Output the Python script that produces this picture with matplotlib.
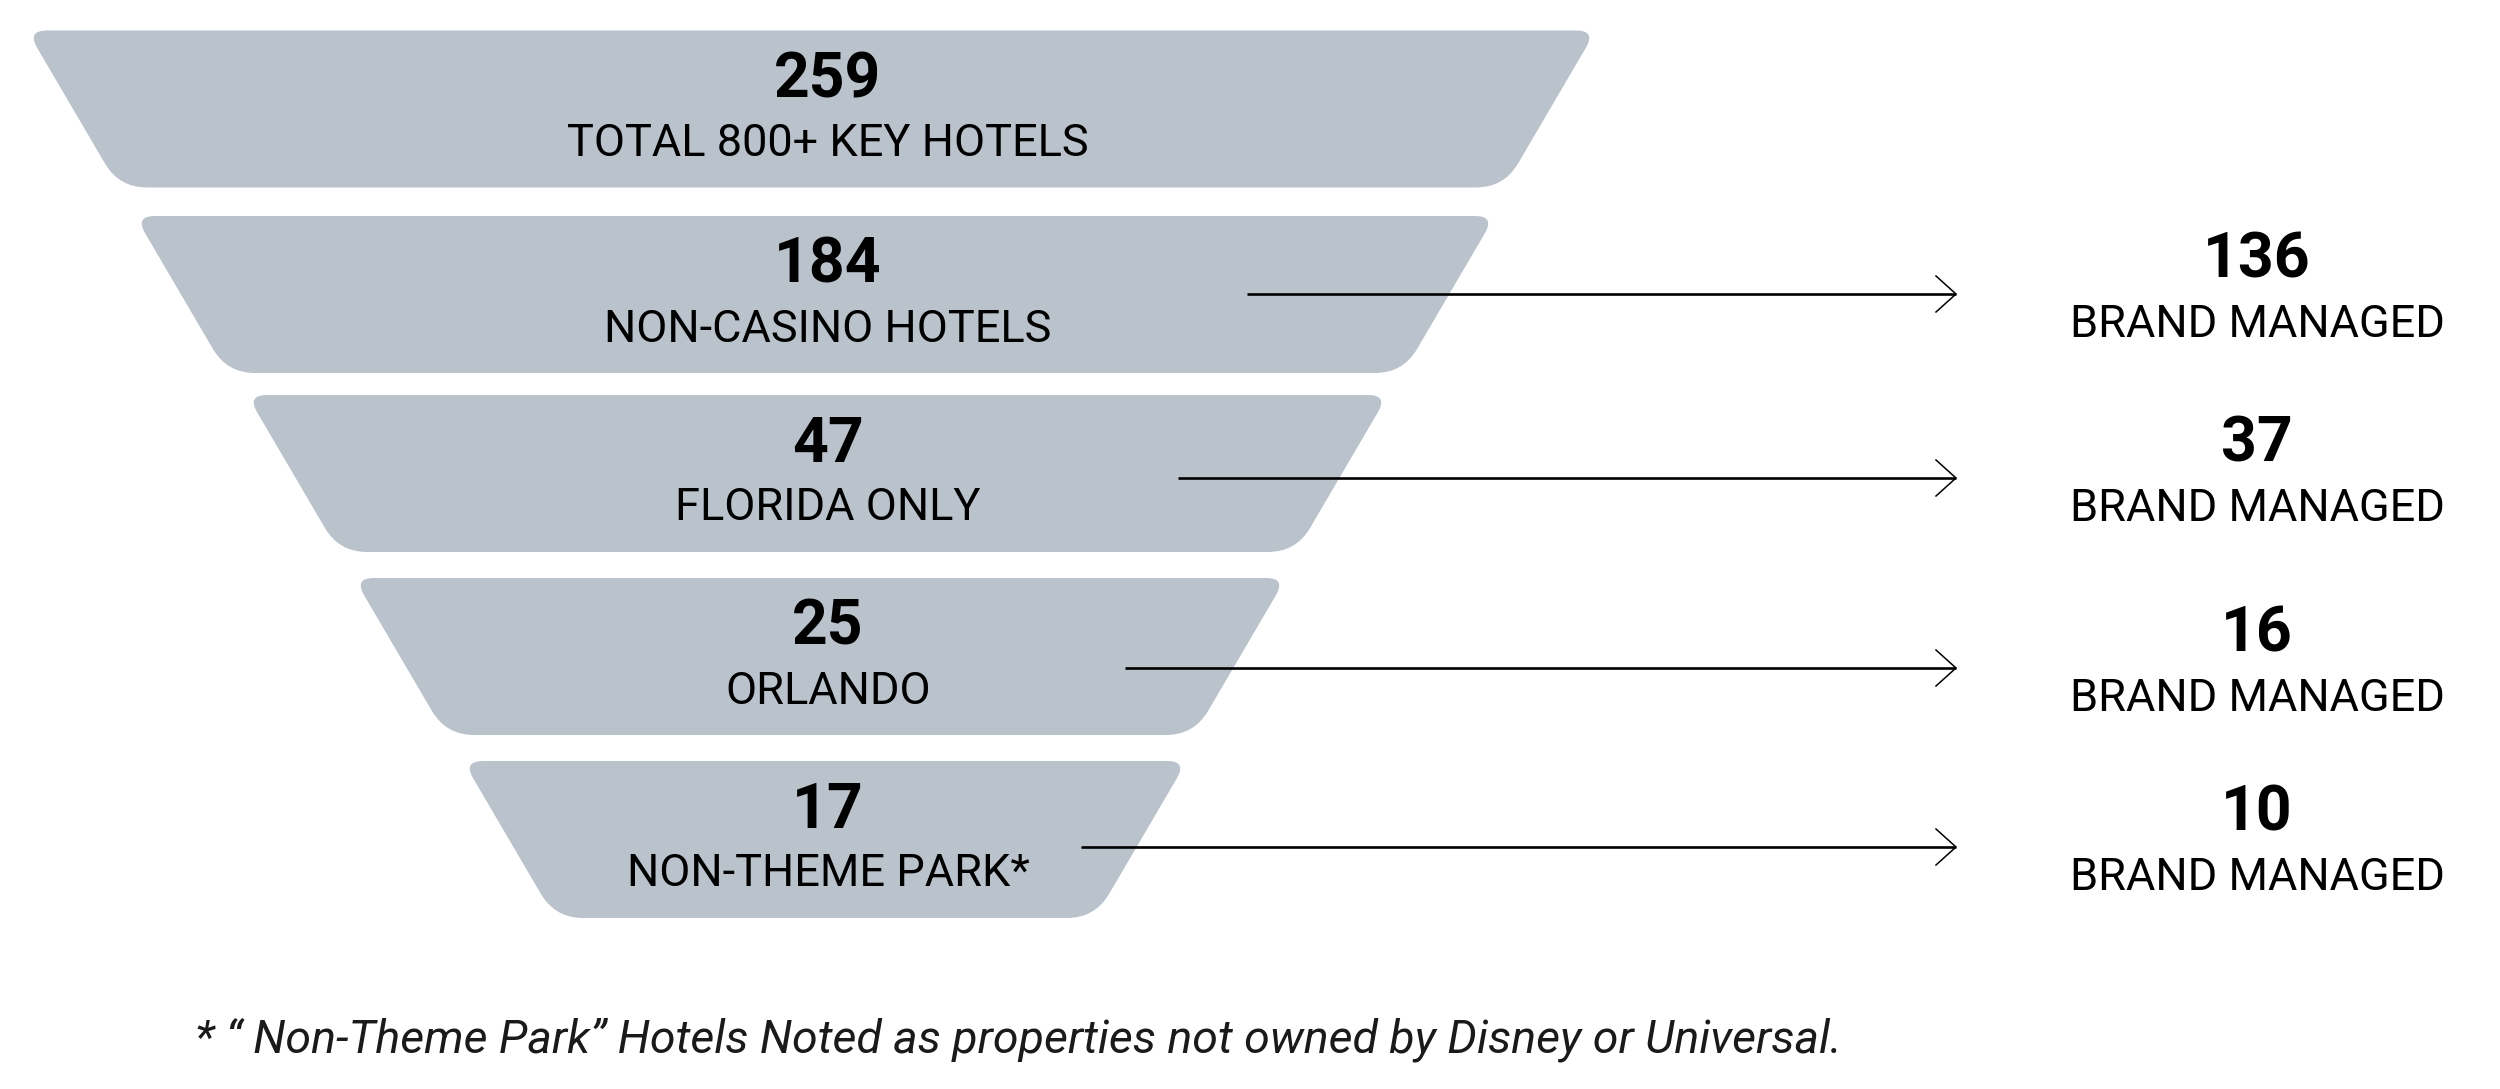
import matplotlib
matplotlib.use("Agg")
import matplotlib.pyplot as plt
from matplotlib.path import Path
from matplotlib.patches import PathPatch
import numpy as np

# ---------------- data ----------------
stage_values = [259, 184, 47, 25, 17]
stage_labels = ["TOTAL 800+ KEY HOTELS", "NON-CASINO HOTELS", "FLORIDA ONLY",
                "ORLANDO", "NON-THEME PARK*"]
brand_values = [None, 136, 37, 16, 10]
brand_label = "BRAND MANAGED"
footnote = "* \u201c Non-Theme Park\u201d Hotels Noted as properties not owned by Disney or Universal."

# ---------------- layout (pixels) ----------------
W, H = 2500, 1089
seg_tops = [30.5, 216, 395, 578, 761]
seg_height = 157
seg_top_widths = [1569, 1360, 1141, 932, 724]
seg_centers = [811.5, 815, 817.5, 820, 825]
seg_inset = 92
d_top, d_bot = 20, 28
text_x = 828
arrow_y = [None, 294, 478, 668, 847]
arrow_x0 = [None, 1247, 1178, 1125, 1081]
arrow_x1 = 1956
right_x = 2257
fill_color = "#bac2cc"
FONT = "Roboto"

fig = plt.figure(figsize=(W / 100, H / 100), dpi=100)
ax = fig.add_axes([0, 0, 1, 1])
ax.set_xlim(0, W)
ax.set_ylim(H, 0)
ax.axis("off")


def rounded_poly(pts, ds):
    pts = [np.array(p, float) for p in pts]
    n = len(pts)
    verts, codes = [], []
    for i in range(n):
        p = pts[i]
        prev = pts[i - 1]
        nxt = pts[(i + 1) % n]
        d = ds[i]
        a = p + (prev - p) / np.linalg.norm(prev - p) * d
        b = p + (nxt - p) / np.linalg.norm(nxt - p) * d
        if i == 0:
            verts.append(a); codes.append(Path.MOVETO)
        else:
            verts.append(a); codes.append(Path.LINETO)
        verts += [p, b]; codes += [Path.CURVE3, Path.CURVE3]
    verts.append(verts[0]); codes.append(Path.CLOSEPOLY)
    return Path(verts, codes)


for i, (val, lab) in enumerate(zip(stage_values, stage_labels)):
    top = seg_tops[i]
    bot = top + seg_height
    c = seg_centers[i]
    w = seg_top_widths[i]
    pts = [(c - w / 2, top), (c + w / 2, top),
           (c + w / 2 - seg_inset, bot), (c - w / 2 + seg_inset, bot)]
    ax.add_patch(PathPatch(rounded_poly(pts, [d_top, d_top, d_bot, d_bot]),
                           facecolor=fill_color, edgecolor="none", zorder=1))
    ax.text(text_x, top + 66.5, str(val), ha="center", va="baseline",
            fontsize=45, fontweight="bold", family=FONT, color="black", zorder=3)
    ax.text(text_x, top + 125.5, lab, ha="center", va="baseline",
            fontsize=32.5, fontweight="normal", family=FONT, color="black", zorder=3)

    if brand_values[i] is not None:
        y = arrow_y[i]
        ax.plot([arrow_x0[i], arrow_x1], [y, y], color="black", lw=1.9,
                solid_capstyle="butt", zorder=4)
        ax.plot([arrow_x1 - 20, arrow_x1, arrow_x1 - 20], [y - 18, y, y + 18],
                color="black", lw=1.1, zorder=4)
        ax.text(right_x, y - 16.5, str(brand_values[i]), ha="center", va="baseline",
                fontsize=45, fontweight="bold", family=FONT, color="black")
        ax.text(right_x, y + 43, brand_label, ha="center", va="baseline",
                fontsize=32.5, fontweight="normal", family=FONT, color="black")

ax.text(195, 1053, footnote, ha="left", va="baseline", fontsize=33.5,
        fontstyle="italic", fontweight="normal", family=FONT, color="#1a1a1a")

fig.savefig("out.png", dpi=100, facecolor="white")
